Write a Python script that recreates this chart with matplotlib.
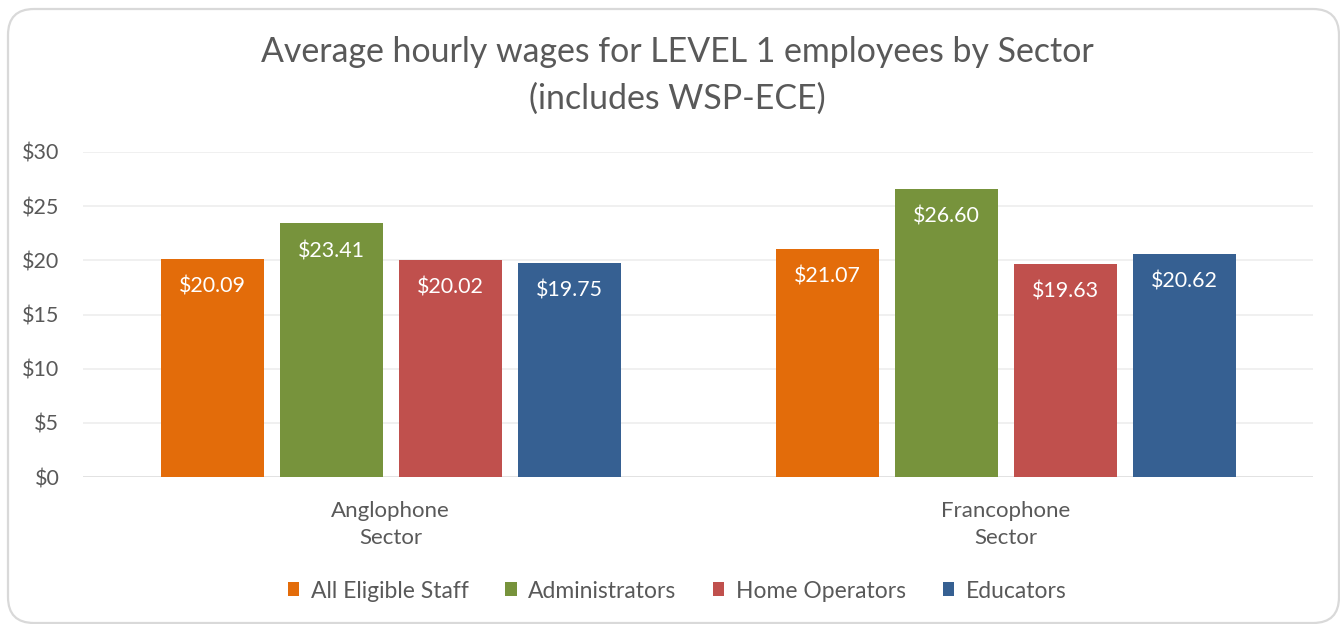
import numpy as np
import matplotlib
matplotlib.use("Agg")
import matplotlib.pyplot as plt
from matplotlib.patches import FancyBboxPatch

plt.rcParams['font.family'] = ['Lato', 'DejaVu Sans']

# data
sectors = ["Anglophone\nSector", "Francophone\nSector"]
series = ["All Eligible Staff", "Administrators", "Home Operators", "Educators"]
all_staff = [20.09, 21.07]
admins = [23.41, 26.60]
home_ops = [20.02, 19.63]
educators = [19.75, 20.62]
colors = ["#E36C0A", "#77933C", "#C0504D", "#366092"]
yticks = [0, 5, 10, 15, 20, 25, 30]

grey = "#595959"

fig = plt.figure(figsize=(13.4, 6.24), dpi=100)

# background axes in pixel units for the rounded border
bg = fig.add_axes([0, 0, 1, 1])
bg.set_xlim(0, 1340)
bg.set_ylim(624, 0)
bg.axis("off")
bg.add_patch(FancyBboxPatch((8, 9), 1331, 614,
                            boxstyle="round,pad=0,rounding_size=26",
                            fill=False, edgecolor="#D9D9D9", linewidth=1.6))

ax = fig.add_axes([83 / 1340, 1 - 477 / 624, 1230 / 1340, 325 / 624])
ax.patch.set_alpha(0)

x = np.arange(len(sectors))
w = 103 / 615
step = 119 / 615
vals = [all_staff, admins, home_ops, educators]
for i, (name, v, c) in enumerate(zip(series, vals, colors)):
    pos = x + (i - 1.5) * step
    bars = ax.bar(pos, v, width=w, color=c, label=name, zorder=3)
    for b, val in zip(bars, v):
        ax.text(b.get_x() + b.get_width() / 2, val - 2.55, "$%.2f" % val,
                ha="center", va="center", color="white", fontsize=15.4, zorder=4)

ax.set_xlim(-0.5, 1.5)
ax.set_ylim(0, 30)
ax.set_yticks(yticks)
ax.set_yticklabels(["$%d" % t for t in yticks], color=grey, fontsize=15.5)
ax.set_xticks(x)
ax.set_xticklabels(sectors, color=grey, fontsize=16, linespacing=1.45)
ax.tick_params(length=0)
ax.tick_params(axis="y", pad=17)
ax.tick_params(axis="x", pad=17)
ax.grid(axis="y", color="#EDEDED", linewidth=1.2, zorder=0)
for s in ax.spines.values():
    s.set_visible(False)
ax.axhline(0, color="#E0E0E0", linewidth=1.2, zorder=2)

fig.text(677 / 1340, 1 - 52 / 624, "Average hourly wages for LEVEL 1 employees by Sector",
         ha="center", va="center", fontsize=24.4, color=grey)
fig.text(677 / 1340, 1 - 99 / 624, "(includes WSP-ECE)",
         ha="center", va="center", fontsize=24.4, color=grey)

fig.legend(loc="center", bbox_to_anchor=(677 / 1340, 1 - 591 / 624), ncol=4,
           frameon=False, fontsize=16.5, handlelength=0.5, handleheight=0.55,
           handletextpad=0.5, columnspacing=1.6, labelcolor=grey)

fig.savefig("out.png", dpi=100)
